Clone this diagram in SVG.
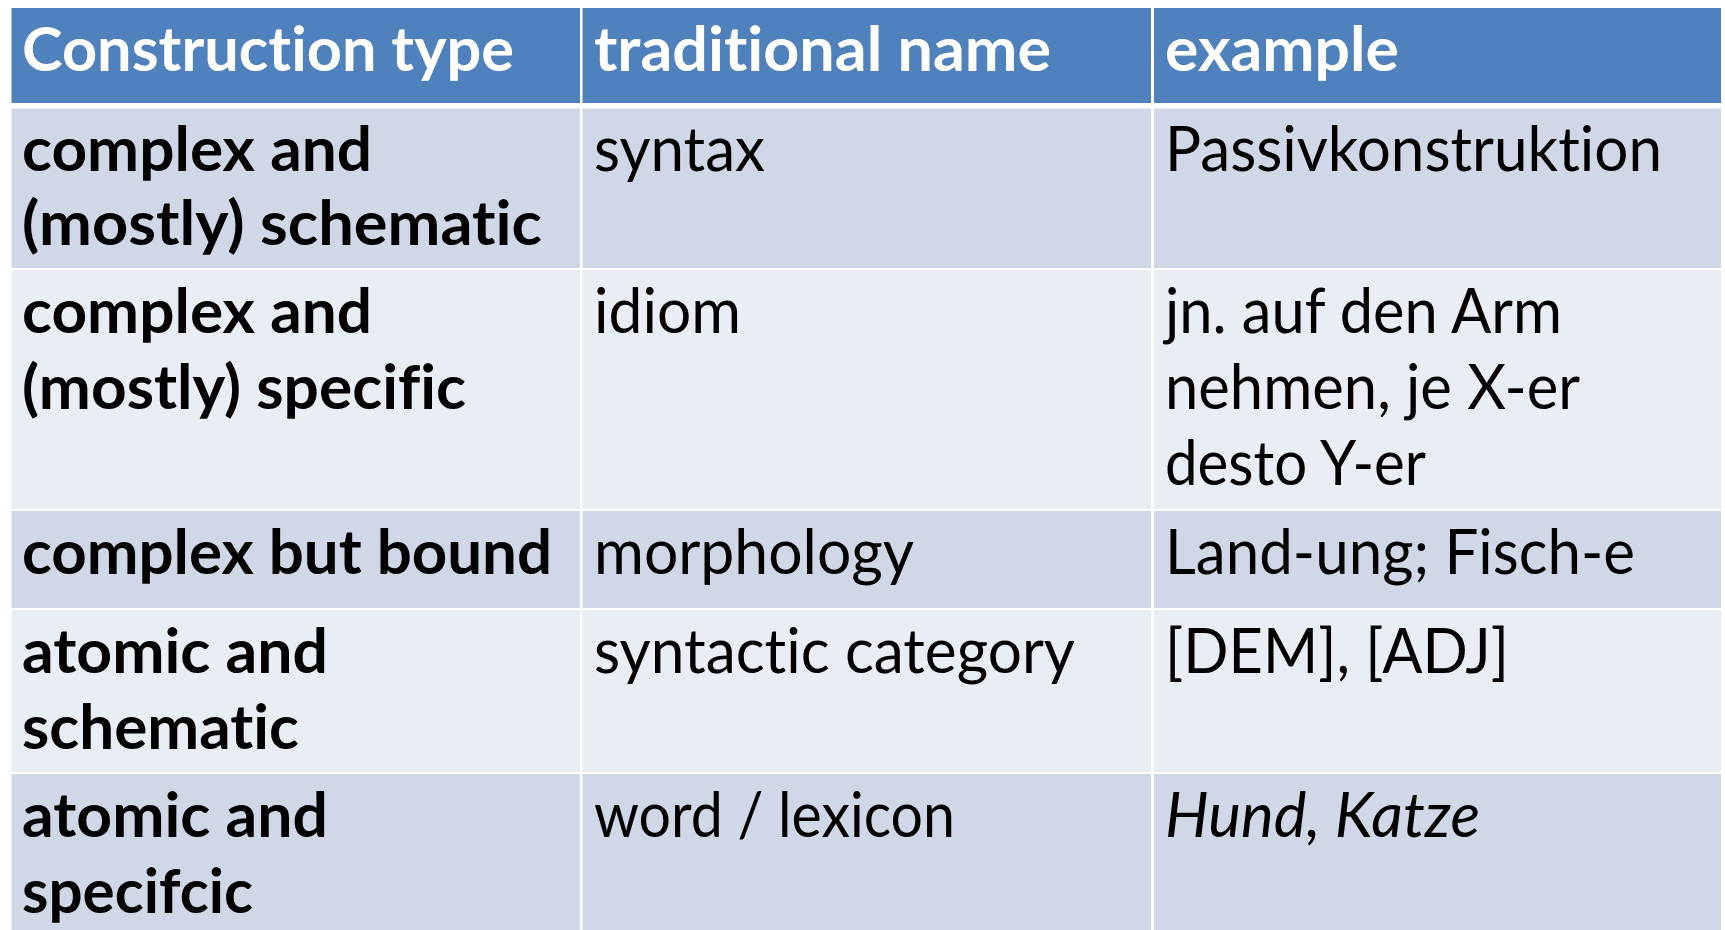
<svg xmlns="http://www.w3.org/2000/svg" width="1725" height="930" viewBox="0 0 1725 930">
  <style>
    .hd { fill: #4F81BD; }
    .dk { fill: #D0D8E8; }
    .lt { fill: #E9EDF4; }
    text { font-family: Lato, "Open Sans", "Liberation Sans", sans-serif; font-size: 62px; fill: #000;
           font-variant-ligatures: none; font-feature-settings: "liga" 0, "clig" 0; }
    .h { fill: #FFFFFF; font-weight: bold; }
    .b { font-weight: bold; }
    .i { font-style: italic; }
  </style>
  <rect x="0" y="0" width="1725" height="930" fill="#FFFFFF"/>

  <!-- header row -->
  <g id="header">
    <rect class="hd" x="11.5" y="8" width="568.5" height="95"/>
    <rect class="hd" x="582.5" y="8" width="568.5" height="95"/>
    <rect class="hd" x="1154" y="8" width="567" height="95"/>
    <text class="h" x="22" y="71" textLength="492" lengthAdjust="spacingAndGlyphs">Construction type</text>
    <text class="h" x="594" y="71" textLength="457" lengthAdjust="spacingAndGlyphs">traditional name</text>
    <text class="h" x="1165" y="71" textLength="234" lengthAdjust="spacingAndGlyphs">example</text>
  </g>

  <!-- row 1 -->
  <g id="row-complex-schematic">
    <rect class="dk" x="11.5" y="108.5" width="568.5" height="159.5"/>
    <rect class="dk" x="582.5" y="108.5" width="568.5" height="159.5"/>
    <rect class="dk" x="1154" y="108.5" width="567" height="159.5"/>
    <text class="b" x="22" y="170.5" textLength="350" lengthAdjust="spacingAndGlyphs">complex and</text>
    <text class="b" x="22" y="245" textLength="520" lengthAdjust="spacingAndGlyphs">(mostly) schematic</text>
    <text x="594" y="170.5" textLength="171" lengthAdjust="spacingAndGlyphs">syntax</text>
    <text x="1165" y="170.5" textLength="497" lengthAdjust="spacingAndGlyphs">Passivkonstruktion</text>
  </g>

  <!-- row 2 -->
  <g id="row-complex-specific">
    <rect class="lt" x="11.5" y="270" width="568.5" height="239"/>
    <rect class="lt" x="582.5" y="270" width="568.5" height="239"/>
    <rect class="lt" x="1154" y="270" width="567" height="239"/>
    <text class="b" x="22" y="333" textLength="350" lengthAdjust="spacingAndGlyphs">complex and</text>
    <text class="b" x="22" y="409" textLength="444" lengthAdjust="spacingAndGlyphs">(mostly) specific</text>
    <text x="594" y="333" textLength="147" lengthAdjust="spacingAndGlyphs">idiom</text>
    <text x="1165" y="333" textLength="397" lengthAdjust="spacingAndGlyphs">jn. auf den Arm</text>
    <text x="1165" y="409" textLength="415" lengthAdjust="spacingAndGlyphs">nehmen, je X-er</text>
    <text x="1165" y="485" textLength="261" lengthAdjust="spacingAndGlyphs">desto Y-er</text>
  </g>

  <!-- row 3 -->
  <g id="row-complex-bound">
    <rect class="dk" x="11.5" y="511" width="568.5" height="97"/>
    <rect class="dk" x="582.5" y="511" width="568.5" height="97"/>
    <rect class="dk" x="1154" y="511" width="567" height="97"/>
    <text class="b" x="22" y="574" textLength="530" lengthAdjust="spacingAndGlyphs">complex but bound</text>
    <text x="594" y="574" textLength="320" lengthAdjust="spacingAndGlyphs">morphology</text>
    <text x="1165" y="574" textLength="470" lengthAdjust="spacingAndGlyphs">Land-ung; Fisch-e</text>
  </g>

  <!-- row 4 -->
  <g id="row-atomic-schematic">
    <rect class="lt" x="11.5" y="610" width="568.5" height="162"/>
    <rect class="lt" x="582.5" y="610" width="568.5" height="162"/>
    <rect class="lt" x="1154" y="610" width="567" height="162"/>
    <text class="b" x="22" y="673" textLength="306" lengthAdjust="spacingAndGlyphs">atomic and</text>
    <text class="b" x="22" y="749" textLength="277" lengthAdjust="spacingAndGlyphs">schematic</text>
    <text x="594" y="673" textLength="481" lengthAdjust="spacingAndGlyphs">syntactic category</text>
    <text x="1165" y="673" textLength="344" lengthAdjust="spacingAndGlyphs">[DEM], [ADJ]</text>
  </g>

  <!-- row 5 -->
  <g id="row-atomic-specific">
    <rect class="dk" x="11.5" y="774" width="568.5" height="156"/>
    <rect class="dk" x="582.5" y="774" width="568.5" height="156"/>
    <rect class="dk" x="1154" y="774" width="567" height="156"/>
    <text class="b" x="22" y="837" textLength="306" lengthAdjust="spacingAndGlyphs">atomic and</text>
    <text class="b" x="22" y="913" textLength="231" lengthAdjust="spacingAndGlyphs">specifcic</text>
    <text x="594" y="837" textLength="361" lengthAdjust="spacingAndGlyphs">word / lexicon</text>
    <text class="i" x="1165" y="837" textLength="315" lengthAdjust="spacingAndGlyphs">Hund, Katze</text>
  </g>

  <g id="connectors"/>
</svg>
